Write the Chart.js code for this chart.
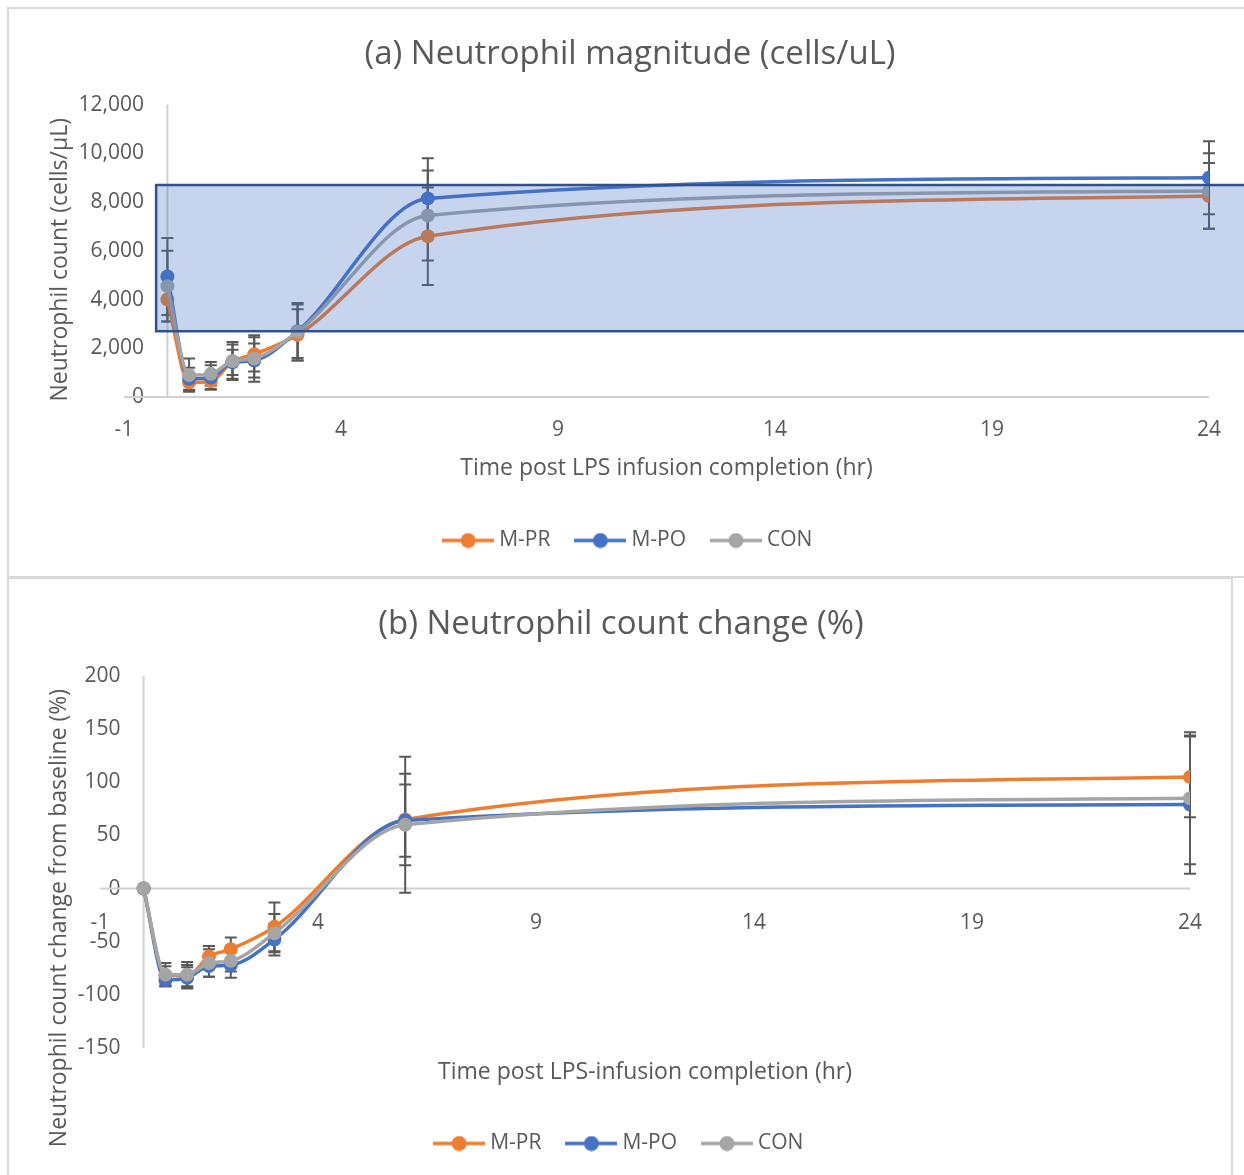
<!DOCTYPE html>
<html>
<head>
<meta charset="utf-8">
<title>Neutrophil response after LPS infusion</title>
<script src="https://cdn.jsdelivr.net/npm/chart.js@4.4.1/dist/chart.umd.min.js"></script>
<style>
  html, body { margin: 0; padding: 0; background: #fff; overflow: hidden; width: 1244px; height: 1175px; }
  .panel { position: absolute; box-sizing: border-box; border: 2px solid #d9d9d9; }
  #panelA { left: 7px; top: 7px; width: 1253px; height: 571px; }
  #panelB { left: 7px; top: 577px; width: 1226px; height: 620px; }
  canvas { position: absolute; left: 0; }
  #magnitude { top: 0; }
  #change { top: 576px; }
</style>
</head>
<body>
<div class="panel" id="panelA"></div>
<div class="panel" id="panelB"></div>
<canvas id="magnitude" width="1260" height="576"></canvas>
<canvas id="change" width="1244" height="599"></canvas>
<script>
// sampling times, hours after end of infusion
const hours = [0, 0.5, 1, 1.5, 2, 3, 6, 24];
const hourTicks = [-1, 4, 9, 14, 19, 24];

const seriesNames = ['M-PR', 'M-PO', 'CON'];
const seriesColors = ['#ED7D31', '#4472C4', '#A5A5A5'];

// (a) neutrophil count, cells/µL (mean and SD)
const countPR = [4000, 600, 650, 1450, 1750, 2550, 6600, 8250];
const countPO = [4950, 750, 800, 1420, 1500, 2700, 8150, 9000];
const countCON = [4550, 900, 950, 1480, 1580, 2680, 7450, 8450];
const sdCountPR = [900, 350, 320, 700, 700, 1050, 2000, 1350];
const sdCountPO = [1580, 450, 500, 520, 700, 1100, 1650, 1500];
const sdCountCON = [1450, 680, 490, 780, 950, 1180, 1850, 1550];
const countTicks = [0, 2000, 4000, 6000, 8000, 10000, 12000];

// reference range box drawn over panel (a)
const normalRange = [2700, 8700];
const normalRangeHours = [-0.26, 25.5];

// (b) change from baseline, % (mean and SD)
const pctPR = [0, -82, -82, -64, -57, -36, 65, 105];
const pctPO = [0, -86, -84, -73, -72, -48, 64, 79];
const pctCON = [0, -81, -81, -70, -68, -42, 60, 85];
const sdPctPR = [0, 9, 10, 10, 11, 23, 43, 38];
const sdPctPO = [0, 6, 10, 10, 12, 15, 34, 65];
const sdPctCON = [0, 11, 12, 13, 10, 18, 64, 62];
const pctTicks = [-150, -100, -50, 0, 50, 100, 150, 200];

const TEXT = '#595959';
const FAMILY = "'Open Sans', sans-serif";
Chart.defaults.font.family = FAMILY;
Chart.defaults.color = TEXT;

// small line + dot swatch for the legend
function legendIcon(color) {
  const c = document.createElement('canvas');
  c.width = 52; c.height = 16;
  const g = c.getContext('2d');
  g.strokeStyle = color; g.lineWidth = 3.5;
  g.beginPath(); g.moveTo(0, 8); g.lineTo(52, 8); g.stroke();
  g.fillStyle = color;
  g.beginPath(); g.arc(26, 8, 7.5, 0, Math.PI * 2); g.fill();
  return c;
}
const icons = seriesColors.map(legendIcon);

// y labels are mirrored + right aligned so they can sit left of the x = 0 axis;
// this gives the padding that puts their right edge `gap` px into the plot
function labelPadding(values, gap) {
  const g = document.createElement('canvas').getContext('2d');
  g.font = '21px ' + FAMILY;
  const widest = Math.max(...values.map(v => g.measureText(v.toLocaleString('en-US')).width));
  return gap - widest;
}

// axis lines cross at x = 0 / y = 0
const axisLines = {
  id: 'axisLines',
  beforeDatasetsDraw(chart) {
    const { ctx, scales: { x, y } } = chart;
    const x0 = x.getPixelForValue(0), y0 = y.getPixelForValue(0);
    ctx.save();
    ctx.strokeStyle = '#d0d0d0';
    ctx.lineWidth = 2;
    ctx.beginPath();
    ctx.moveTo(x.left, y0); ctx.lineTo(x.right, y0);
    ctx.moveTo(x0, y.top); ctx.lineTo(x0, y.bottom);
    ctx.stroke();
    ctx.restore();
  }
};

// +/- SD whiskers, drawn under the lines
const errorBars = {
  id: 'errorBars',
  beforeDatasetsDraw(chart, args, opts) {
    const { ctx, scales: { x, y } } = chart;
    ctx.save();
    ctx.strokeStyle = TEXT;
    ctx.lineWidth = 2;
    chart.data.datasets.forEach((ds, i) => {
      ds.data.forEach((pt, j) => {
        const sd = opts.sd[i][j];
        if (!sd) return;
        const px = x.getPixelForValue(pt.x);
        const hi = y.getPixelForValue(pt.y + sd);
        const lo = y.getPixelForValue(pt.y - sd);
        ctx.beginPath();
        ctx.moveTo(px, hi); ctx.lineTo(px, lo);
        ctx.moveTo(px - 6, hi); ctx.lineTo(px + 6, hi);
        ctx.moveTo(px - 6, lo); ctx.lineTo(px + 6, lo);
        ctx.stroke();
      });
    });
    ctx.restore();
  }
};

// translucent box over the normal range
const rangeBand = {
  id: 'rangeBand',
  afterDatasetsDraw(chart, args, opts) {
    const { ctx, scales: { x, y } } = chart;
    const l = x.getPixelForValue(opts.hours[0]);
    const r = x.getPixelForValue(opts.hours[1]);
    const t = y.getPixelForValue(opts.range[1]);
    const b = y.getPixelForValue(opts.range[0]);
    ctx.save();
    ctx.fillStyle = 'rgba(68, 114, 196, 0.3)';
    ctx.fillRect(l, t, r - l, b - t);
    ctx.strokeStyle = '#2F528F';
    ctx.lineWidth = 2.5;
    ctx.strokeRect(l, t, r - l, b - t);
    ctx.restore();
  }
};

// rotated y title, nudged off the plot-area centre
const yTitle = {
  id: 'yTitle',
  afterDraw(chart, args, opts) {
    const { ctx, chartArea: a } = chart;
    ctx.save();
    ctx.fillStyle = TEXT;
    ctx.font = '23px ' + FAMILY;
    ctx.textAlign = 'center';
    ctx.textBaseline = 'middle';
    ctx.translate(opts.left, (a.top + a.bottom) / 2 + opts.offset);
    ctx.rotate(-Math.PI / 2);
    ctx.fillText(opts.text, 0, 0);
    ctx.restore();
  }
};

function lineSets(values) {
  return values.map((vals, i) => ({
    label: seriesNames[i],
    data: hours.map((h, j) => ({ x: h, y: vals[j] })),
    borderColor: seriesColors[i],
    backgroundColor: seriesColors[i],
    borderWidth: 3.5,
    pointRadius: 7,
    pointBorderWidth: 0,
    pointHoverRadius: 7,
    cubicInterpolationMode: 'monotone',
    order: values.length - 1 - i   // CON ends up on top
  }));
}

const legendOpts = {
  position: 'bottom',
  labels: {
    usePointStyle: true,
    pointStyleWidth: 41,
    padding: 29.5,
    color: TEXT,
    font: { size: 21 },
    sort: (a, b) => a.datasetIndex - b.datasetIndex,
    generateLabels(chart) {
      const items = Chart.defaults.plugins.legend.labels.generateLabels(chart);
      items.forEach(it => { it.pointStyle = icons[it.datasetIndex]; });
      return items;
    }
  }
};

function tickList(list) {
  return scale => { scale.ticks = list.map(v => ({ value: v })); };
}

const noLines = { grid: { display: false, drawTicks: false }, border: { display: false } };

function drawCharts() {
  new Chart(document.getElementById('magnitude'), {
    type: 'line',
    data: { datasets: lineSets([countPR, countPO, countCON]) },
    plugins: [axisLines, errorBars, rangeBand, yTitle],
    options: {
      responsive: false,
      animation: false,
      devicePixelRatio: 1,
      layout: { padding: { left: 51, right: 51, top: 0, bottom: 15 } },
      plugins: {
        title: {
          display: true,
          text: '(a) Neutrophil magnitude (cells/uL)',
          color: TEXT,
          font: { size: 33, weight: 'normal' },
          padding: { top: 35, bottom: 30 }
        },
        legend: legendOpts,
        tooltip: { enabled: false },
        errorBars: { sd: [sdCountPR, sdCountPO, sdCountCON] },
        rangeBand: { range: normalRange, hours: normalRangeHours },
        yTitle: { text: 'Neutrophil count (cells/µL)', left: 60, offset: 9 }
      },
      scales: {
        x: {
          type: 'linear', min: -1, max: 24,
          ...noLines,
          afterBuildTicks: tickList(hourTicks),
          ticks: { padding: 20.4, maxRotation: 0, font: { size: 21 }, color: TEXT },
          title: {
            display: true,
            text: 'Time post LPS infusion completion (hr)',
            color: TEXT,
            font: { size: 23 },
            padding: { top: 0, bottom: 18.2 }
          },
          afterFit: s => { s.height = 103.5; }
        },
        y: {
          min: 0, max: 12000,
          ...noLines,
          afterBuildTicks: tickList(countTicks),
          ticks: {
            mirror: true, crossAlign: 'far',
            padding: labelPadding(countTicks, 20),
            font: { size: 21 }, color: TEXT
          },
          afterFit: s => { s.width = 73; }
        }
      }
    }
  });

  new Chart(document.getElementById('change'), {
    type: 'line',
    data: { datasets: lineSets([pctPR, pctPO, pctCON]) },
    plugins: [axisLines, errorBars, yTitle],
    options: {
      responsive: false,
      animation: false,
      devicePixelRatio: 1,
      layout: { padding: { left: 52, right: 54, top: 0, bottom: 11 } },
      plugins: {
        title: {
          display: true,
          text: '(b) Neutrophil count change (%)',
          color: TEXT,
          font: { size: 33, weight: 'normal' },
          padding: { top: 29, bottom: 31.4 }
        },
        legend: legendOpts,
        tooltip: { enabled: false },
        errorBars: { sd: [sdPctPR, sdPctPO, sdPctCON] },
        yTitle: { text: 'Neutrophil count change from baseline (%)', left: 59, offset: 56 }
      },
      scales: {
        // hour axis sits on the y = 0 line
        x: {
          type: 'linear', min: -1, max: 24,
          position: { y: 0 },
          ...noLines,
          afterBuildTicks: tickList(hourTicks),
          ticks: { padding: 21.4, maxRotation: 0, font: { size: 21 }, color: TEXT },
          afterFit: s => { s.height = 0; }
        },
        // bottom strip that only carries the hour-axis title
        xTitle: {
          type: 'linear', position: 'bottom', axis: 'x',
          ...noLines,
          ticks: { display: false },
          title: {
            display: true,
            text: 'Time post LPS-infusion completion (hr)',
            color: TEXT,
            font: { size: 23 },
            padding: { top: 0, bottom: 17.7 }
          },
          afterFit: s => { s.height = 55.5; }
        },
        y: {
          min: -150, max: 200,
          ...noLines,
          afterBuildTicks: tickList(pctTicks),
          ticks: {
            mirror: true, crossAlign: 'far',
            padding: labelPadding(pctTicks, 20.5),
            font: { size: 21 }, color: TEXT
          },
          afterFit: s => { s.width = 48; }
        }
      }
    }
  });
}

if (document.fonts && document.fonts.load) {
  document.fonts.load('21px ' + FAMILY).then(drawCharts, drawCharts);
} else {
  drawCharts();
}
</script>
</body>
</html>
